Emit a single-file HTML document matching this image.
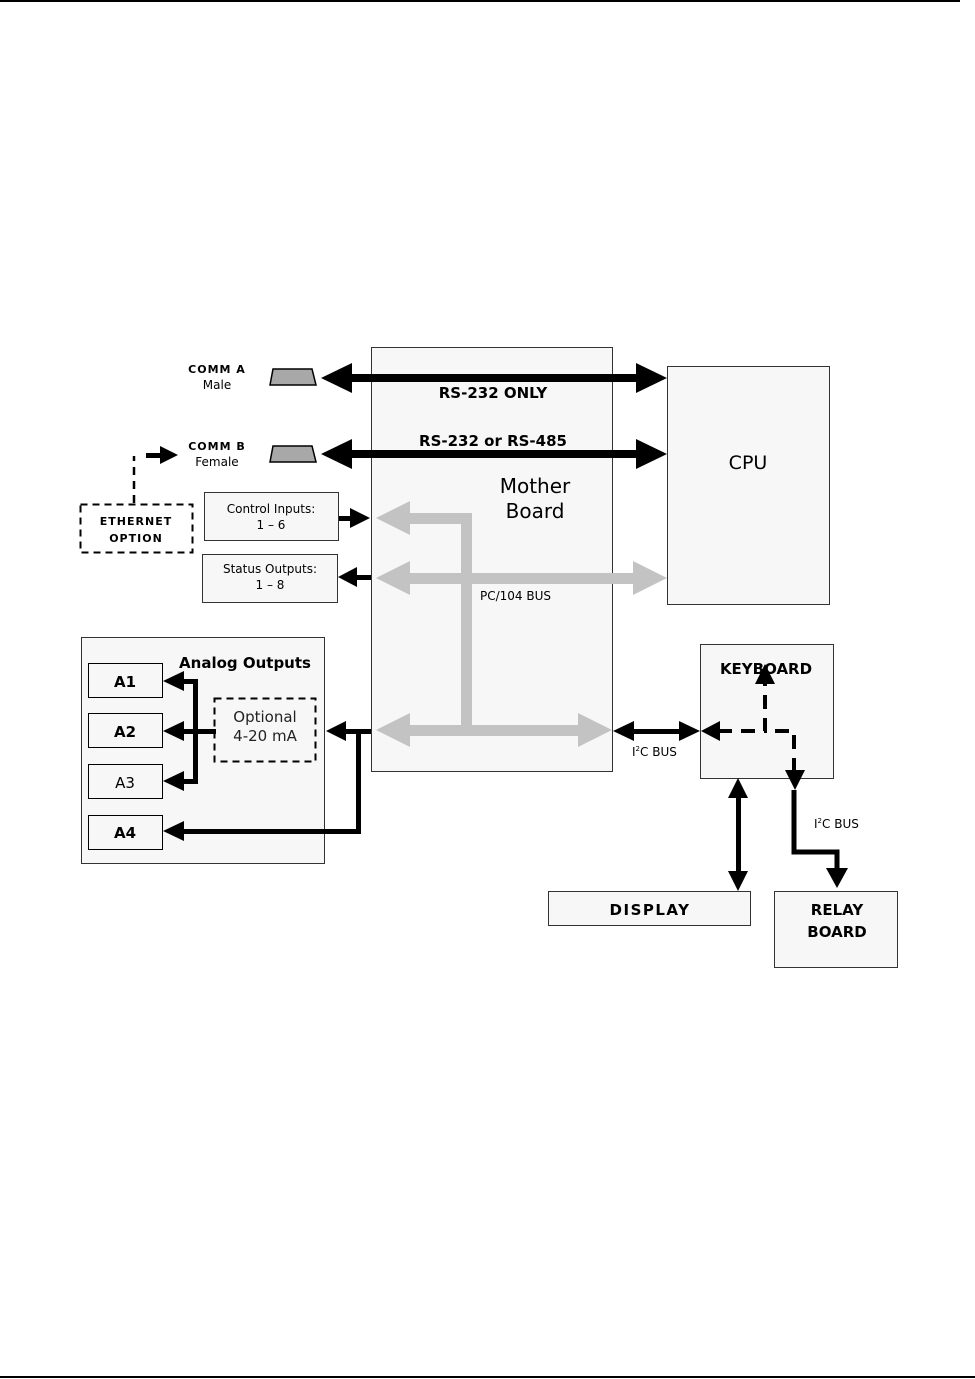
<!DOCTYPE html>
<html><head><meta charset="utf-8"><style>
html,body{margin:0;padding:0;background:#fff}
svg{display:block}
text{font-family:"DejaVu Sans","Liberation Sans",sans-serif}
</style></head><body>
<svg width="975" height="1379" viewBox="0 0 975 1379" xmlns="http://www.w3.org/2000/svg">
<rect x="0" y="0" width="960" height="2" fill="#000"/>
<rect x="0" y="1376" width="975" height="2" fill="#000"/>

<!-- Mother board -->
<rect x="371.5" y="347.5" width="241" height="424" fill="#f7f7f7" stroke="#333" stroke-width="1"/>
<!-- CPU -->
<rect x="667.5" y="366.5" width="162" height="238" fill="#f7f7f7" stroke="#333" stroke-width="1"/>
<text x="748" y="469" font-size="19" text-anchor="middle" fill="#000">CPU</text>
<text x="535" y="493" font-size="20" text-anchor="middle" fill="#000">Mother</text>
<text x="535" y="518" font-size="20" text-anchor="middle" fill="#000">Board</text>

<!-- gray bus -->
<g fill="#c3c3c3">
<rect x="461" y="513" width="11" height="218"/>
<rect x="405" y="513" width="67" height="11"/>
<polygon points="376,518 410,501 410,535"/>
<rect x="405" y="573" width="230" height="11"/>
<polygon points="376,578 410,561 410,595"/>
<polygon points="667,578 633,561 633,595"/>
<rect x="405" y="725" width="180" height="11"/>
<polygon points="376,730 410,713 410,747"/>
<polygon points="612,730 578,713 578,747"/>
</g>
<text x="480" y="600" font-size="12" fill="#000">PC/104 BUS</text>

<!-- COMM arrows -->
<g fill="#000">
<rect x="345" y="374" width="295" height="8"/>
<polygon points="321,378 352,363 352,393"/>
<polygon points="667,378 636,363 636,393"/>
<rect x="345" y="450" width="295" height="8"/>
<polygon points="321,454 352,439 352,469"/>
<polygon points="667,454 636,439 636,469"/>
</g>
<text x="493" y="398" font-size="15" font-weight="bold" text-anchor="middle">RS-232 ONLY</text>
<text x="493" y="446" font-size="15" font-weight="bold" text-anchor="middle">RS-232 or RS-485</text>

<!-- connectors -->
<polygon points="273,369 312,369 316,385 270,385" fill="#a8a8a8" stroke="#000" stroke-width="1.5"/>
<polygon points="273,446 312,446 316,462 270,462" fill="#a8a8a8" stroke="#000" stroke-width="1.5"/>
<text x="217" y="373" font-size="11" font-weight="bold" text-anchor="middle" letter-spacing="1">COMM A</text>
<text x="217" y="389" font-size="12" text-anchor="middle">Male</text>
<text x="217" y="450" font-size="11" font-weight="bold" text-anchor="middle" letter-spacing="1">COMM B</text>
<text x="217" y="466" font-size="12" text-anchor="middle">Female</text>

<!-- Ethernet -->
<rect x="80.5" y="504.5" width="112" height="48" fill="none" stroke="#000" stroke-width="2" stroke-dasharray="7,5"/>
<text x="136" y="525" font-size="11" font-weight="bold" text-anchor="middle" letter-spacing="1">ETHERNET</text>
<text x="136" y="542" font-size="11" font-weight="bold" text-anchor="middle" letter-spacing="1">OPTION</text>
<path d="M134,503 V456" stroke="#000" stroke-width="2.5" stroke-dasharray="8,6" fill="none"/>
<rect x="146" y="453" width="16" height="5"/>
<polygon points="178,455 160,446 160,464" fill="#000"/>

<!-- control / status -->
<rect x="204.5" y="492.5" width="134" height="48" fill="#f7f7f7" stroke="#333"/>
<text x="271" y="513" font-size="12" text-anchor="middle">Control Inputs:</text>
<text x="271" y="529" font-size="12" text-anchor="middle">1 – 6</text>
<rect x="339" y="516" width="14" height="5" fill="#000"/>
<polygon points="370,518 350,508 350,528" fill="#000"/>
<rect x="202.5" y="554.5" width="135" height="48" fill="#f7f7f7" stroke="#333"/>
<text x="270" y="573" font-size="12" text-anchor="middle">Status Outputs:</text>
<text x="270" y="589" font-size="12" text-anchor="middle">1 – 8</text>
<rect x="355" y="575" width="16" height="5" fill="#000"/>
<polygon points="338,577 357,567 357,587" fill="#000"/>

<!-- Analog outputs -->
<rect x="81.5" y="637.5" width="243" height="226" fill="#f7f7f7" stroke="#333"/>
<text x="245" y="668" font-size="15" font-weight="bold" text-anchor="middle">Analog Outputs</text>
<rect x="88.5" y="663.5" width="74" height="34" fill="#f7f7f7" stroke="#000"/>
<text x="125" y="687" font-size="15" font-weight="bold" text-anchor="middle">A1</text>
<rect x="88.5" y="713.5" width="74" height="34" fill="#f7f7f7" stroke="#000"/>
<text x="125" y="737" font-size="15" font-weight="bold" text-anchor="middle">A2</text>
<rect x="88.5" y="764.5" width="74" height="34" fill="#f7f7f7" stroke="#000"/>
<text x="125" y="788" font-size="15" text-anchor="middle">A3</text>
<rect x="88.5" y="815.5" width="74" height="34" fill="#f7f7f7" stroke="#000"/>
<text x="125" y="838" font-size="15" font-weight="bold" text-anchor="middle">A4</text>
<rect x="214.5" y="698.5" width="101" height="63" fill="none" stroke="#000" stroke-width="2" stroke-dasharray="7,5"/>
<text x="265" y="722" font-size="15" text-anchor="middle" fill="#222">Optional</text>
<text x="265" y="741" font-size="15" text-anchor="middle" fill="#222">4-20 mA</text>
<g fill="#000">
<rect x="193" y="679" width="5" height="105"/>
<rect x="180" y="679" width="18" height="5"/>
<rect x="180" y="729" width="36" height="5"/>
<rect x="180" y="779" width="18" height="5"/>
<polygon points="163,681 184,671 184,691"/>
<polygon points="163,731 184,721 184,741"/>
<polygon points="163,781 184,771 184,791"/>
<rect x="340" y="729" width="31" height="5"/>
<polygon points="326,731 346,721 346,741"/>
<rect x="356" y="729" width="5" height="105"/>
<rect x="180" y="829" width="181" height="5"/>
<polygon points="163,831 184,821 184,841"/>
</g>

<!-- Keyboard -->
<rect x="700.5" y="644.5" width="133" height="134" fill="#f7f7f7" stroke="#333"/>
<text x="766" y="674" font-size="15" font-weight="bold" text-anchor="middle">KEYBOARD</text>
<g fill="#000">
<rect x="630" y="729" width="55" height="5"/>
<polygon points="613,731 634,721 634,741"/>
<polygon points="700,731 679,721 679,741"/>
<polygon points="701,731 720,721 720,741"/>
<polygon points="765,664 755,684 775,684"/>
<polygon points="795,790 785,770 805,770"/>
</g>
<path d="M718,731 H765 V682" stroke="#000" stroke-width="4" stroke-dasharray="14,9" fill="none"/>
<path d="M775,731 H794 V772" stroke="#000" stroke-width="4" stroke-dasharray="14,9" fill="none"/>
<text x="632" y="756" font-size="12">I<tspan font-size="7" dy="-5">2</tspan><tspan dy="5">C BUS</tspan></text>
<text x="814" y="828" font-size="12">I<tspan font-size="7" dy="-5">2</tspan><tspan dy="5">C BUS</tspan></text>
<path d="M794,790 V852 H837 V875" stroke="#000" stroke-width="5" fill="none"/>
<polygon points="837,888 826,868 848,868" fill="#000"/>
<rect x="736" y="795" width="5" height="80" fill="#000"/>
<polygon points="738,778 728,798 748,798" fill="#000"/>
<polygon points="738,891 728,871 748,871" fill="#000"/>

<rect x="548.5" y="891.5" width="202" height="34" fill="#f7f7f7" stroke="#333"/>
<text x="650" y="915" font-size="15" font-weight="bold" text-anchor="middle" letter-spacing="1.5">DISPLAY</text>
<rect x="774.5" y="891.5" width="123" height="76" fill="#f7f7f7" stroke="#333"/>
<text x="837" y="915" font-size="15" font-weight="bold" text-anchor="middle">RELAY</text>
<text x="837" y="937" font-size="15" font-weight="bold" text-anchor="middle">BOARD</text>
</svg>
</body></html>
